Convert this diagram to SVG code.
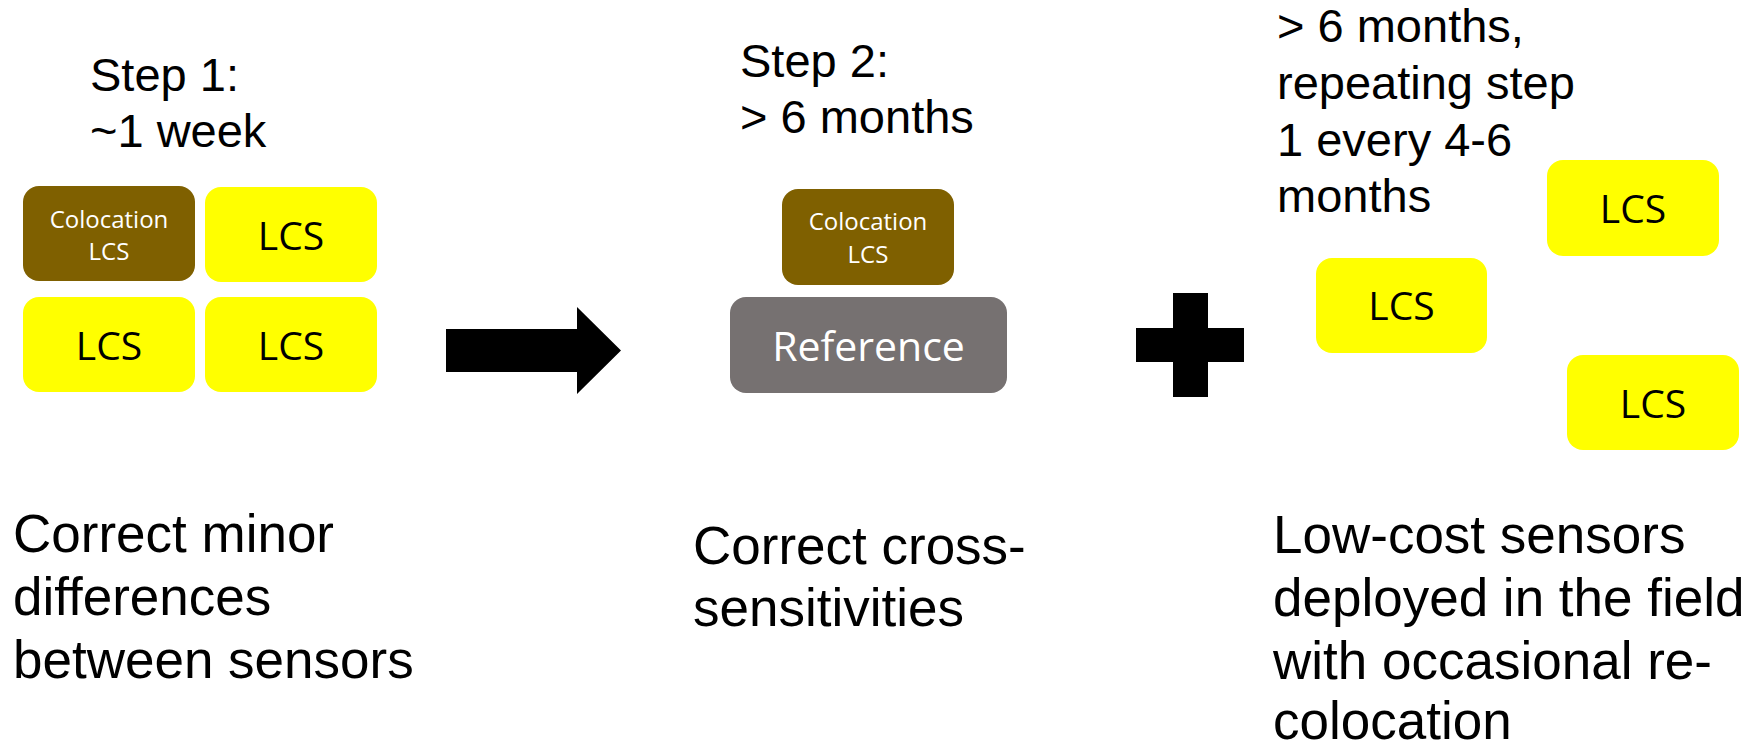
<svg xmlns="http://www.w3.org/2000/svg" width="1758" height="746" viewBox="0 0 1758 746">
<style>
.lbl{font-family:"Liberation Sans",Arial,sans-serif;font-size:47px;fill:#000}
.big{font-family:"Liberation Sans",Arial,sans-serif;font-size:53px;fill:#000}
.lcs{fill:#FFFF00}
.col{fill:#7F6000}
.ref{fill:#767171}
.lcst{font-family:"Open Sans","Noto Sans",sans-serif;font-size:39px;fill:#000;text-anchor:middle}
.colt{font-family:"Open Sans","Noto Sans",sans-serif;font-size:24px;fill:#fff;text-anchor:middle}
.reft{font-family:"Open Sans","Noto Sans",sans-serif;font-size:41px;fill:#fff;text-anchor:middle}
</style>
<rect width="1758" height="746" fill="#fff"/>
<g id="step1-label"><text class="lbl" x="90" y="91">Step 1:</text><text class="lbl" x="90" y="147">~1 week</text></g>
<g id="step2-label"><text class="lbl" x="740" y="77">Step 2:</text><text class="lbl" x="740" y="133">&gt; 6 months</text></g>
<g id="step3-label"><text class="lbl" x="1277" y="42">&gt; 6 months,</text><text class="lbl" x="1277" y="99">repeating step</text><text class="lbl" x="1277" y="156">1 every 4-6</text><text class="lbl" x="1277" y="212">months</text></g>
<g id="s1-colocation"><rect class="col" x="23" y="186" width="172" height="95" rx="16"/><text class="colt" x="109" y="228">Colocation</text><text class="colt" x="109" y="260">LCS</text></g>
<g id="s1-lcs1"><rect class="lcs" x="205" y="187" width="172" height="95" rx="16"/><text class="lcst" x="291" y="250">LCS</text></g>
<g id="s1-lcs2"><rect class="lcs" x="23" y="297" width="172" height="95" rx="16"/><text class="lcst" x="109" y="360">LCS</text></g>
<g id="s1-lcs3"><rect class="lcs" x="205" y="297" width="172" height="95" rx="16"/><text class="lcst" x="291" y="360">LCS</text></g>
<g id="connectors"><polygon fill="#000" points="446,329 577,329 577,307 621,350.5 577,394 577,372 446,372"/>
<path fill="#000" d="M1173,293H1208V328H1244V362H1208V397H1173V362H1136V328H1173Z"/></g>
<g id="s2-colocation"><rect class="col" x="782" y="189" width="172" height="96" rx="16"/><text class="colt" x="868" y="230">Colocation</text><text class="colt" x="868" y="263">LCS</text></g>
<g id="s2-reference"><rect class="ref" x="730" y="297" width="277" height="96" rx="16"/><text class="reft" x="868.5" y="361">Reference</text></g>
<g id="s3-lcs1"><rect class="lcs" x="1547" y="160" width="172" height="96" rx="16"/><text class="lcst" x="1633" y="223">LCS</text></g>
<g id="s3-lcs2"><rect class="lcs" x="1316" y="258" width="171" height="95" rx="16"/><text class="lcst" x="1401.5" y="320">LCS</text></g>
<g id="s3-lcs3"><rect class="lcs" x="1567" y="355" width="172" height="95" rx="16"/><text class="lcst" x="1653" y="418">LCS</text></g>
<g id="desc1"><text class="big" x="13" y="552">Correct minor</text><text class="big" x="13" y="615">differences</text><text class="big" x="13" y="678">between sensors</text></g>
<g id="desc2"><text class="big" x="693" y="564">Correct cross-</text><text class="big" x="693" y="626">sensitivities</text></g>
<g id="desc3"><text class="big" x="1273" y="553">Low-cost sensors</text><text class="big" x="1273" y="616">deployed in the field</text><text class="big" x="1273" y="679">with occasional re-</text><text class="big" x="1273" y="739">colocation</text></g>
</svg>
